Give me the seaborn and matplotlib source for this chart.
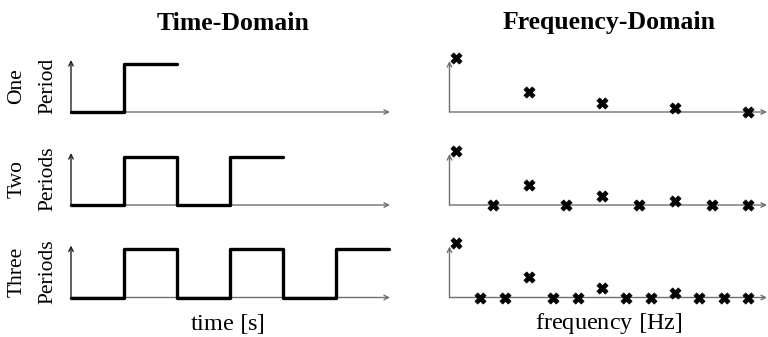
import numpy as np
import pandas as pd
import seaborn as sns
import matplotlib.pyplot as plt

# square wave levels, one value per half period
time_one = [0, 1]
time_two = [0, 1, 0, 1]
time_three = [0, 1, 0, 1, 0, 1]

# spectrum magnitudes (relative to DC), one value per frequency bin
freq_one = [1.0, 0.37, 0.16, 0.065, 0.0]
freq_two = [1.0, 0.0, 0.37, 0.0, 0.17, 0.0, 0.07, 0.0, 0.0]
freq_three = [1.0, 0.0, 0.0, 0.37, 0.0, 0.0, 0.18, 0.0, 0.0, 0.08, 0.0, 0.0, 0.0]

row_top = ["One", "Two", "Three"]
row_bottom = ["Period", "Periods", "Periods"]
periods = [1, 2, 3]

sns.set_theme(style="white")
plt.rcParams['font.family'] = ['Liberation Serif', 'DejaVu Serif']
plt.rcParams['mathtext.fontset'] = 'stix'
plt.rcParams['text.color'] = 'black'

W, H = 768, 337
fig = plt.figure(figsize=(W / 100, H / 100), dpi=100)

def px_axes(x0, x1, ybase, ytop):
    return fig.add_axes([x0 / W, (H - ybase) / H, (x1 - x0) / W, (ybase - ytop) / H])

def px_text(x, y, s, **kw):
    fig.text(x / W, 1 - y / H, s, ha='center', va='center', **kw)

def draw_arrows(ax, xcolor, ycolor):
    for s in ax.spines.values():
        s.set_visible(False)
    ax.set_xticks([])
    ax.set_yticks([])
    ax.annotate('', xy=(1.0, 0), xytext=(0, 0), xycoords='axes fraction',
                arrowprops=dict(arrowstyle='->', color=xcolor, lw=1.0,
                                mutation_scale=8, shrinkA=0, shrinkB=0), zorder=1)
    ax.annotate('', xy=(0, 1.0), xytext=(0, 0), xycoords='axes fraction',
                arrowprops=dict(arrowstyle='->', color=ycolor, lw=1.0,
                                mutation_scale=8, shrinkA=0, shrinkB=0), zorder=1)

bases = [112, 205, 297.5]
time_data = [time_one, time_two, time_three]
freq_data = [freq_one, freq_two, freq_three]

for i in range(3):
    # time domain
    ax = px_axes(71, 390, bases[i], bases[i] - 52)
    lv = time_data[i]
    df = pd.DataFrame({'t': np.arange(len(lv) + 1), 'v': lv + [lv[-1]]})
    draw_arrows(ax, '#707070', '#222222')
    sns.lineplot(data=df, x='t', y='v', ax=ax, color='black', linewidth=2.4,
                 drawstyle='steps-post', zorder=3, clip_on=False)
    ax.set_xlim(0, 6.02)
    ax.set_ylim(0, 1.083)
    ax.set_xlabel('')
    ax.set_ylabel('')

    # frequency domain
    ax2 = px_axes(449.5, 767, bases[i], bases[i] - 51)
    mv = freq_data[i]
    fdf = pd.DataFrame({'f': np.arange(len(mv)) / periods[i], 'm': mv})
    draw_arrows(ax2, '#707070', '#707070')
    sns.scatterplot(data=fdf, x='f', y='m', ax=ax2, marker='X', color='black',
                    s=65, edgecolor='black', linewidth=0.5, zorder=4, clip_on=False)
    ax2.set_xlim(-0.089, 4.26)
    ax2.set_ylim(0, 51 / 54.5)
    ax2.set_xlabel('')
    ax2.set_ylabel('')

    # row labels
    yc = bases[i] - 26
    px_text(17, yc, row_top[i], fontsize=15.5, rotation=90)
    px_text(48, yc, row_bottom[i], fontsize=15.5, rotation=90)

px_text(233, 24, 'Time-Domain', fontsize=18.5, fontweight='bold')
px_text(609, 23, 'Frequency-Domain', fontsize=18.5, fontweight='bold')
px_text(227, 324, 'time $[$s$]$', fontsize=17.5)
px_text(609, 324, 'frequency $[$Hz$]$', fontsize=17.5)

fig.savefig('out.png', dpi=100)
